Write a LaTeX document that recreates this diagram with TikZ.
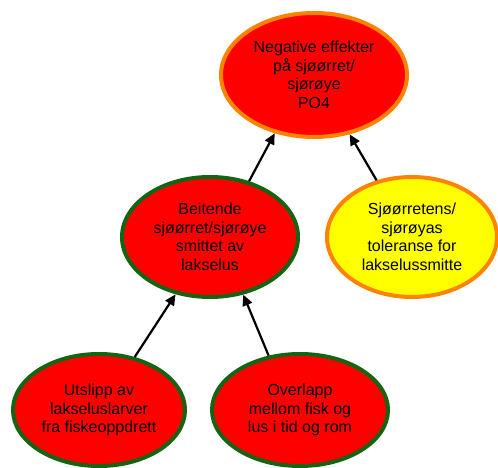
\documentclass[tikz,border=0pt]{standalone}
\usepackage{fontspec}
\setmainfont{Liberation Sans}
\usetikzlibrary{shapes.geometric, arrows.meta}
\definecolor{effred}{RGB}{255,0,0}
\definecolor{effyellow}{RGB}{255,255,0}
\definecolor{rimgreen}{RGB}{20,100,20}
\definecolor{rimorange}{RGB}{255,130,0}
\tikzset{
    factor/.style={ellipse, draw, line width=4pt, inner sep=0pt, align=center,
        font=\fontsize{16}{18.5}\selectfont},
    redgreen/.style={factor, fill=effred, draw=rimgreen},
    redorange/.style={factor, fill=effred, draw=rimorange},
    yelloworange/.style={factor, fill=effyellow, draw=rimorange},
    effect_arrow/.style={line width=2.2pt, -{Triangle[length=11pt,width=10pt]}}
}
\begin{document}
\begin{tikzpicture}[x=1pt, y=1pt]
    \useasboundingbox (0,0) rectangle (498,468);
    % --- Nodes ---
    \node (neg) [redorange, minimum width=186pt, minimum height=124pt] at (314,393)
        {Negative effekter\\på sjøørret/\\sjørøye\\PO4};
    \node (beit) [redgreen, minimum width=176pt, minimum height=120pt] at (210,231)
        {Beitende\\sjøørret/sjørøye\\smittet av\\lakselus};
    \node (tol) [yelloworange, minimum width=170pt, minimum height=120pt] at (412,231)
        {Sjøørretens/\\sjørøyas\\toleranse for\\lakselussmitte};
    \node (utsl) [redgreen, minimum width=172pt, minimum height=112pt] at (99,58)
        {Utslipp av\\lakseluslarver\\fra fiskeoppdrett};
    \node (overl) [redgreen, minimum width=176pt, minimum height=112pt] at (300,58)
        {Overlapp\\mellom fisk og\\lus i tid og rom};

    % --- Arrows ---
    \draw[effect_arrow] (beit.55) -- (neg.-124);
    \draw[effect_arrow] (tol.122) -- (neg.-59);
    \draw[effect_arrow] (utsl.56) -- (beit.-121);
    \draw[effect_arrow] (overl.120) -- (beit.-60);
\end{tikzpicture}
\end{document}
